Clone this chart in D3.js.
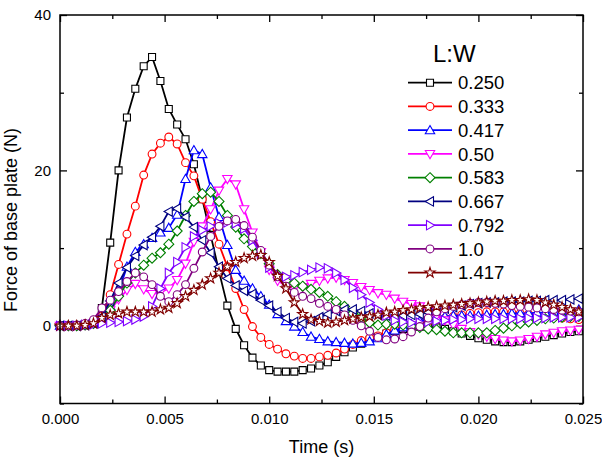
<!DOCTYPE html>
<html>
<head>
<meta charset="utf-8">
<script src="https://cdn.jsdelivr.net/npm/d3@7"></script>
<style>
  body { margin: 0; background: #fff; }
  text { font-family: "Liberation Sans", Arial, sans-serif; fill: #000; }
</style>
</head>
<body>
<div id="vis"></div>
<script>
// sample times (s), one marker every 0.4 ms
const time = [0, 0.0004, 0.0008, 0.0012, 0.0016, 0.0020, 0.0024, 0.0028, 0.0032, 0.0036,
  0.0040, 0.0044, 0.0048, 0.0052, 0.0056, 0.0060, 0.0064, 0.0068, 0.0072, 0.0076,
  0.0080, 0.0084, 0.0088, 0.0092, 0.0096, 0.0100, 0.0104, 0.0108, 0.0112, 0.0116,
  0.0120, 0.0124, 0.0128, 0.0132, 0.0136, 0.0140, 0.0144, 0.0148, 0.0152, 0.0156,
  0.0160, 0.0164, 0.0168, 0.0172, 0.0176, 0.0180, 0.0184, 0.0188, 0.0192, 0.0196,
  0.0200, 0.0204, 0.0208, 0.0212, 0.0216, 0.0220, 0.0224, 0.0228, 0.0232, 0.0236,
  0.0240, 0.0244, 0.0248, 0.0252];

// force of base plate (N) per L:W ratio
const lw0250 = [0, 0, 0, 0.1, 0.3, 2.3, 10.7, 20.0, 26.8, 30.5,
  33.4, 34.6, 31.5, 27.9, 25.9, 24.0, 20.8, 16.3, 11.7, 7.0,
  2.6, -0.4, -2.5, -4.1, -5.1, -5.7, -5.9, -5.9, -5.9, -5.7,
  -5.5, -5.1, -4.7, -4.0, -3.4, -2.8, -2.3, -1.8, -1.4, -1.0,
  -0.7, -0.4, -0.2, -0.1, -0.1, -0.2, -0.4, -0.7, -1.0, -1.3,
  -1.6, -1.8, -2.0, -2.1, -2.1, -2.0, -1.8, -1.6, -1.4, -1.2,
  -1.0, -0.8, -0.7, -0.6];
const lw0333 = [0, 0, 0, 0.1, 0.3, 1.2, 4.0, 7.9, 11.8, 15.4,
  19.4, 22.1, 23.5, 24.3, 23.4, 21.0, 19.3, 16.3, 13.4, 10.5,
  7.6, 4.8, 2.1, -0.1, -1.5, -2.4, -3.0, -3.6, -3.9, -4.2,
  -4.2, -4.0, -3.8, -3.5, -3.0, -2.4, -1.9, -1.6, -1.3, -0.9,
  -0.5, -0.2, 0.1, 0.4, 0.6, 0.8, 1.0, 1.2, 1.4, 1.6,
  1.7, 1.8, 1.8, 1.8, 1.7, 1.6, 1.5, 1.4, 1.3, 1.1,
  1.0, 0.9, 0.8, 0.7];
const lw0417 = [0, 0, 0, 0.1, 0.3, 1.0, 2.5, 4.4, 7.6, 9.5,
  10.5, 11.3, 12.0, 12.6, 14.3, 18.9, 22.6, 22.1, 17.8, 14.0,
  10.4, 7.2, 5.8, 4.8, 3.8, 2.7, 1.5, 0.6, -0.1, -0.8,
  -1.4, -1.7, -2.0, -2.1, -2.2, -2.3, -2.2, -2.0, -1.6, -1.1,
  -0.6, -0.2, 0.2, 0.6, 0.9, 1.1, 1.2, 1.3, 1.3, 1.3,
  1.3, 1.4, 1.5, 1.5, 1.6, 1.6, 1.6, 1.7, 1.7, 1.8,
  1.9, 2.0, 2.1, 2.2];
const lw050 = [0, 0, 0, 0.1, 0.3, 0.9, 2.0, 3.4, 4.6, 5.4,
  4.7, 4.1, 4.3, 4.8, 5.9, 8.0, 10.8, 12.8, 15.0, 17.4,
  18.9, 18.2, 15.0, 12.0, 9.5, 7.2, 5.8, 5.2, 4.9, 5.0,
  5.4, 5.8, 6.1, 6.2, 5.9, 5.5, 5.0, 4.6, 4.2, 4.0,
  3.5, 3.1, 2.8, 2.5, 1.9, 1.3, 0.7, 0.1, -0.4, -0.8,
  -1.1, -1.4, -1.7, -1.9, -2.0, -1.9, -1.7, -1.4, -1.1, -0.9,
  -0.7, -0.6, -0.5, -0.4];
const lw0583 = [0, 0, 0, 0.1, 0.3, 0.8, 2.0, 3.8, 5.5, 6.8,
  7.8, 8.7, 9.4, 10.5, 12.2, 14.2, 16.0, 17.0, 17.2, 16.0,
  14.2, 12.7, 11.2, 10.2, 9.3, 8.0, 6.6, 5.8, 5.5, 5.1,
  4.7, 4.3, 3.8, 3.1, 2.5, 1.6, 1.1, 0.4, 0.1, 0.2,
  0.2, 0.1, -0.1, -0.2, -0.4, -0.5, -0.7, -0.9, -0.9, -0.9,
  -0.9, -0.9, -0.6, -0.3, 0.0, 0.3, 0.5, 0.7, 0.9, 1.0,
  1.1, 1.2, 1.2, 1.3];
const lw0667 = [0, 0, 0, 0.1, 0.3, 1.2, 3.2, 5.5, 7.5, 9.0,
  10.4, 11.4, 12.8, 14.7, 15.1, 14.0, 12.7, 11.0, 9.4, 7.6,
  6.1, 5.2, 4.5, 4.1, 3.3, 2.6, 1.8, 1.0, 0.5, 0.3,
  0.6, 1.1, 1.5, 1.9, 2.1, 2.1, 1.9, 1.6, 1.4, 1.3,
  1.3, 1.3, 1.4, 1.5, 1.7, 2.0, 2.2, 2.4, 2.6, 2.8,
  2.9, 3.0, 3.0, 3.1, 3.1, 3.1, 3.2, 3.2, 3.3, 3.3,
  3.3, 3.4, 3.5, 3.5];
const lw0792 = [0, 0, 0, 0.1, 0.2, 0.3, 0.4, 0.5, 0.6, 0.8,
  1.2, 2.5, 4.8, 6.8, 8.2, 10.1, 11.5, 12.3, 12.8, 13.2,
  13.3, 13.2, 12.5, 11.0, 9.3, 7.5, 6.6, 6.3, 6.5, 6.9,
  7.2, 7.5, 7.4, 6.8, 5.9, 4.9, 4.0, 3.0, 2.1, 1.3,
  0.7, 0.5, 0.4, 0.4, 0.5, 0.6, 0.7, 0.8, 0.8, 0.9,
  0.9, 0.9, 0.9, 0.9, 0.9, 0.9, 1.0, 1.0, 1.0, 1.1,
  1.1, 1.1, 1.1, 1.1];
const lw10 = [0, 0, 0.1, 0.3, 0.8, 2.3, 3.3, 4.4, 5.7, 6.8,
  6.3, 5.3, 3.8, 3.1, 4.0, 5.3, 7.4, 9.5, 11.5, 12.8,
  13.5, 13.7, 12.9, 11.4, 9.7, 7.8, 6.3, 5.1, 4.3, 3.8,
  3.5, 2.9, 2.5, 2.1, 1.4, 0.7, 0.0, -0.7, -1.5, -1.8,
  -1.7, -1.4, -0.8, -0.1, 1.0, 1.8, 2.2, 2.5, 2.7, 2.9,
  3.0, 3.0, 2.9, 2.8, 2.6, 2.5, 2.4, 2.3, 2.2, 2.1,
  2.0, 1.9, 1.8, 1.7];
const lw1417 = [0, 0, 0, 0.1, 0.3, 1.0, 1.4, 1.6, 1.8, 1.8,
  1.8, 1.8, 2.1, 2.3, 2.9, 3.8, 4.6, 5.3, 6.1, 6.8,
  7.6, 8.2, 8.7, 9.0, 9.1, 8.2, 6.4, 4.8, 3.0, 1.5,
  0.8, 0.6, 0.4, 0.5, 0.7, 0.9, 1.1, 1.2, 1.4, 1.7,
  1.8, 2.0, 2.1, 2.3, 2.4, 2.5, 2.6, 2.7, 2.8, 2.9,
  3.0, 3.1, 3.2, 3.2, 3.3, 3.3, 3.4, 3.3, 3.0, 2.7,
  2.4, 2.1, 1.8, 1.6];

const labels = ["0.250", "0.333", "0.417", "0.50", "0.583", "0.667", "0.792", "1.0", "1.417"];
const xTicks = [0, 0.005, 0.010, 0.015, 0.020, 0.025];
const xMinor = [0.0025, 0.0075, 0.0125, 0.0175, 0.0225];
const yTicks = [0, 20, 40];
const yMinor = [-10, 10, 30];

const values = [lw0250, lw0333, lw0417, lw050, lw0583, lw0667, lw0792, lw10, lw1417];
const colors = ["#000000", "#ff0000", "#0000ff", "#ff00ff", "#008000", "#000080", "#8000ff", "#800080", "#800000"];
const shapes = ["square", "circle", "up", "down", "diamond", "left", "right", "circle", "star"];

let margin = { top: 15, left: 60, right: 19, bottom: 54.5 },
  width = 602 - margin.left - margin.right,
  height = 458 - margin.top - margin.bottom;

const svg = d3.select("#vis")
  .append("svg")
    .attr("width", width + margin.left + margin.right)
    .attr("height", height + margin.top + margin.bottom)
  .append("g")
    .attr("transform", `translate(${margin.left},${margin.top})`);

const x = d3.scaleLinear().domain([0, 0.025]).range([0, width]);
const y = d3.scaleLinear().domain([-10, 40]).range([height, 0]);

// marker outlines, centred on 0,0
const markerPath = shape => {
  switch (shape) {
    case "square": return "M-3.5,-3.5h7v7h-7Z";
    case "circle": return d3.symbol(d3.symbolCircle, 48)();
    case "up": return "M0,-4.7L4.7,3.5L-4.7,3.5Z";
    case "down": return "M0,4.7L4.7,-3.5L-4.7,-3.5Z";
    case "left": return "M-4.7,0L3.5,-4.7L3.5,4.7Z";
    case "right": return "M4.7,0L-3.5,-4.7L-3.5,4.7Z";
    case "diamond": return "M0,-5L5,0L0,5L-5,0Z";
    case "star": return d3.symbol(d3.symbolStar, 32)();
  }
};

// ticks inside the frame, on all four sides
const addAxis = (axis, transform, labelsOn) => {
  const g = svg.append("g").attr("transform", transform).call(axis);
  g.select(".domain").remove();
  g.selectAll(".tick line").attr("stroke", "#000").attr("stroke-width", 1.3);
  g.selectAll(".tick text").style("font-size", "15px")
    .style("font-family", '"Liberation Sans", Arial, sans-serif').attr("fill", "#000");
  if (!labelsOn) g.selectAll(".tick text").remove();
  return g;
};

addAxis(d3.axisBottom(x).tickValues(xTicks).tickSize(-7).tickPadding(10).tickFormat(d3.format(".3f")),
  `translate(0,${height})`, true);
addAxis(d3.axisBottom(x).tickValues(xMinor).tickSize(-4).tickFormat(""), `translate(0,${height})`, false);
addAxis(d3.axisTop(x).tickValues(xTicks).tickSize(-7), "translate(0,0)", false);
addAxis(d3.axisTop(x).tickValues(xMinor).tickSize(-4), "translate(0,0)", false);
addAxis(d3.axisLeft(y).tickValues(yTicks).tickSize(-7).tickPadding(9), "translate(0,0)", true);
addAxis(d3.axisLeft(y).tickValues(yMinor).tickSize(-4).tickFormat(""), "translate(0,0)", false);
addAxis(d3.axisRight(y).tickValues(yTicks).tickSize(-7), `translate(${width},0)`, false);
addAxis(d3.axisRight(y).tickValues(yMinor).tickSize(-4), `translate(${width},0)`, false);

svg.append("defs").append("clipPath").attr("id", "plot-clip")
  .append("rect").attr("x", -6).attr("y", -6).attr("width", width + 6).attr("height", height + 12);

const plot = svg.append("g").attr("clip-path", "url(#plot-clip)");

const line = d3.line()
  .x((d, i) => x(time[i]))
  .y(d => y(d));

values.forEach((vals, k) => {
  const g = plot.append("g");
  g.append("path")
    .datum(vals)
    .attr("fill", "none")
    .attr("stroke", colors[k])
    .attr("stroke-width", 1.8)
    .attr("d", line);
  g.selectAll("path.marker")
    .data(vals)
    .join("path")
      .attr("class", "marker")
      .attr("d", markerPath(shapes[k]))
      .attr("transform", (d, i) => `translate(${x(time[i])},${y(d)})`)
      .attr("fill", "#fff")
      .attr("stroke", colors[k])
      .attr("stroke-width", 1.1);
});

// frame
svg.append("rect")
  .attr("width", width)
  .attr("height", height)
  .attr("fill", "none")
  .attr("stroke", "#000")
  .attr("stroke-width", 1.5);

// axis titles
svg.append("text")
  .attr("x", width / 2)
  .attr("y", height + 49)
  .attr("text-anchor", "middle")
  .style("font-size", "18px")
  .text("Time (s)");

svg.append("text")
  .attr("transform", `translate(${-43},${205}) rotate(-90)`)
  .attr("text-anchor", "middle")
  .style("font-size", "18px")
  .text("Force of base plate (N)");

// legend
const legend = svg.append("g").attr("transform", "translate(348,0)");
legend.append("text")
  .attr("x", 25)
  .attr("y", 47)
  .style("font-size", "24px")
  .text("L:W");

labels.forEach((lab, k) => {
  const row = legend.append("g").attr("transform", `translate(0,${67.7 + k * 23.75})`);
  row.append("line")
    .attr("x1", 0).attr("x2", 44)
    .attr("stroke", colors[k]).attr("stroke-width", 1.8);
  row.append("path")
    .attr("d", markerPath(shapes[k]))
    .attr("transform", "translate(22,0)")
    .attr("fill", "#fff")
    .attr("stroke", colors[k])
    .attr("stroke-width", 1.1);
  row.append("text")
    .attr("x", 50)
    .attr("dy", "0.36em")
    .style("font-size", "18.5px")
    .text(lab);
});
</script>
</body>
</html>
